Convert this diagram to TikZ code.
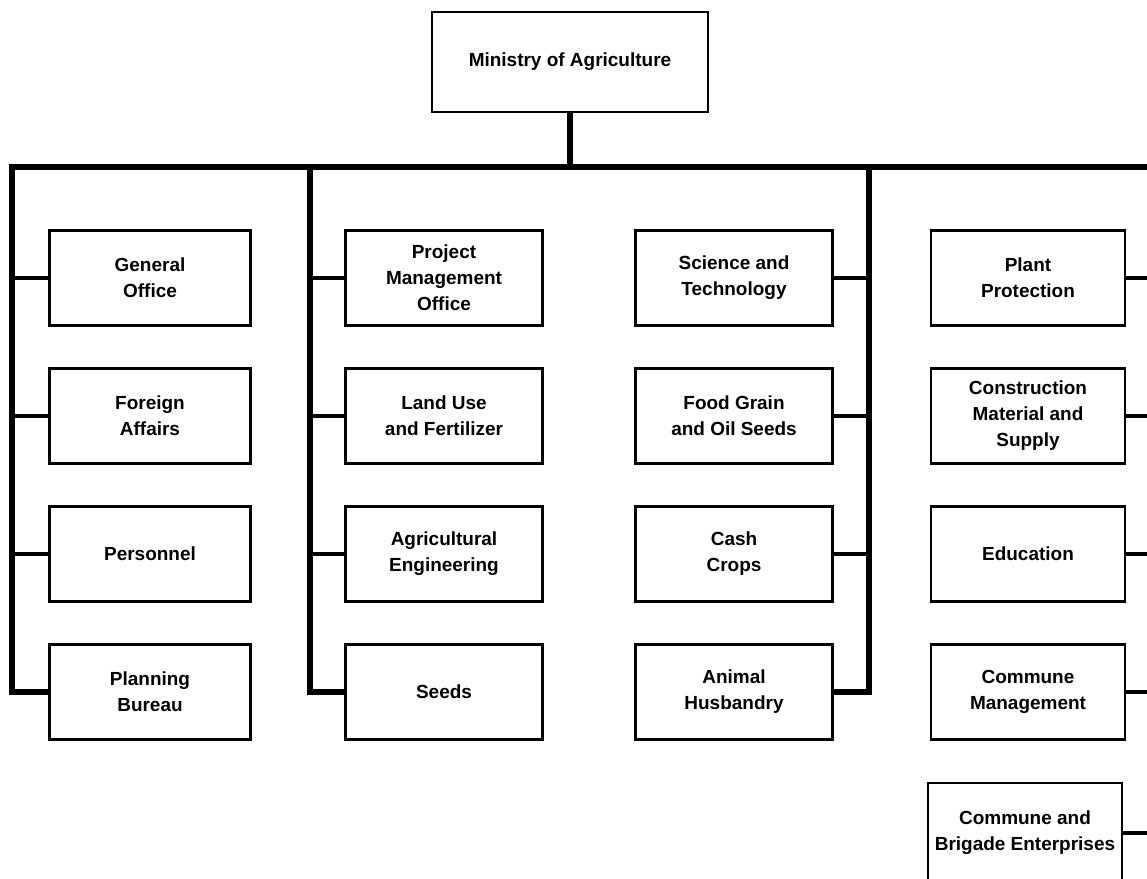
\documentclass[tikz,border=0pt]{standalone}
\usepackage{fontspec}
\setmainfont{Liberation Sans}

\tikzset{
  unit/.style={draw, line width=1.4pt, minimum width=3.94cm, minimum height=1.9cm,
    align=center, inner sep=1pt, font=\fontsize{10.8}{14.8}\selectfont\bfseries},
  bus/.style={line width=3.2pt},
  branch/.style={line width=2.8pt},
}

\begin{document}
\begin{tikzpicture}[x=0.02cm, y=-0.02cm]
  \useasboundingbox (0,0) rectangle (1147,879);
  \node[unit, minimum width=5.52cm, minimum height=2cm, line width=1.1pt] (min) at (570,62) {Ministry of Agriculture};
  \coordinate (busL) at (12,167);
  \coordinate (j2) at (310,167);
  \coordinate (j3) at (869,167);
  \coordinate (busR) at (1150,167);

  % departments, column by column
  \foreach \t [count=\i] in {{General\\Office}, {Foreign\\Affairs}, Personnel, {Planning\\Bureau}} {
    \node[unit, minimum width=4.02cm] (a\i) at (150, {140+138*\i}) {\t};
  }
  \foreach \t [count=\i] in {{Project\\Management\\Office}, {Land Use\\and Fertilizer}, {Agricultural\\Engineering}, Seeds} {
    \node[unit] (b\i) at (444, {140+138*\i}) {\t};
  }
  \foreach \t [count=\i] in {{Science and\\Technology}, {Food Grain\\and Oil Seeds}, {Cash\\Crops}, {Animal\\Husbandry}} {
    \node[unit] (c\i) at (734, {140+138*\i}) {\t};
  }
  \foreach \t [count=\i] in {{Plant\\Protection}, {Construction\\Material and\\Supply}, Education, {Commune\\Management}} {
    \node[unit, minimum width=3.88cm] (d\i) at (1028, {140+138*\i}) {\t};
  }
  \node[unit, minimum width=3.88cm, minimum height=2cm] (d5) at (1025,833) {Commune and\\Brigade Enterprises};

  % lines
  \draw[bus] (min.south) -- (min.south |- busL);
  \draw[bus] (a4.west) -| (busL) -- (busR);
  \draw[bus] (b4.west) -| (j2);
  \draw[bus] (c4.east) -| (j3);
  \foreach \i in {1,2,3} {
    \draw[branch] (a\i.west) -- (a\i.west -| busL);
    \draw[branch] (b\i.west) -- (b\i.west -| j2);
    \draw[branch] (c\i.east) -- (c\i.east -| j3);
  }
  \foreach \i in {1,...,5}
    \draw[branch] (d\i.east) -- (d\i.east -| busR);
\end{tikzpicture}
\end{document}
